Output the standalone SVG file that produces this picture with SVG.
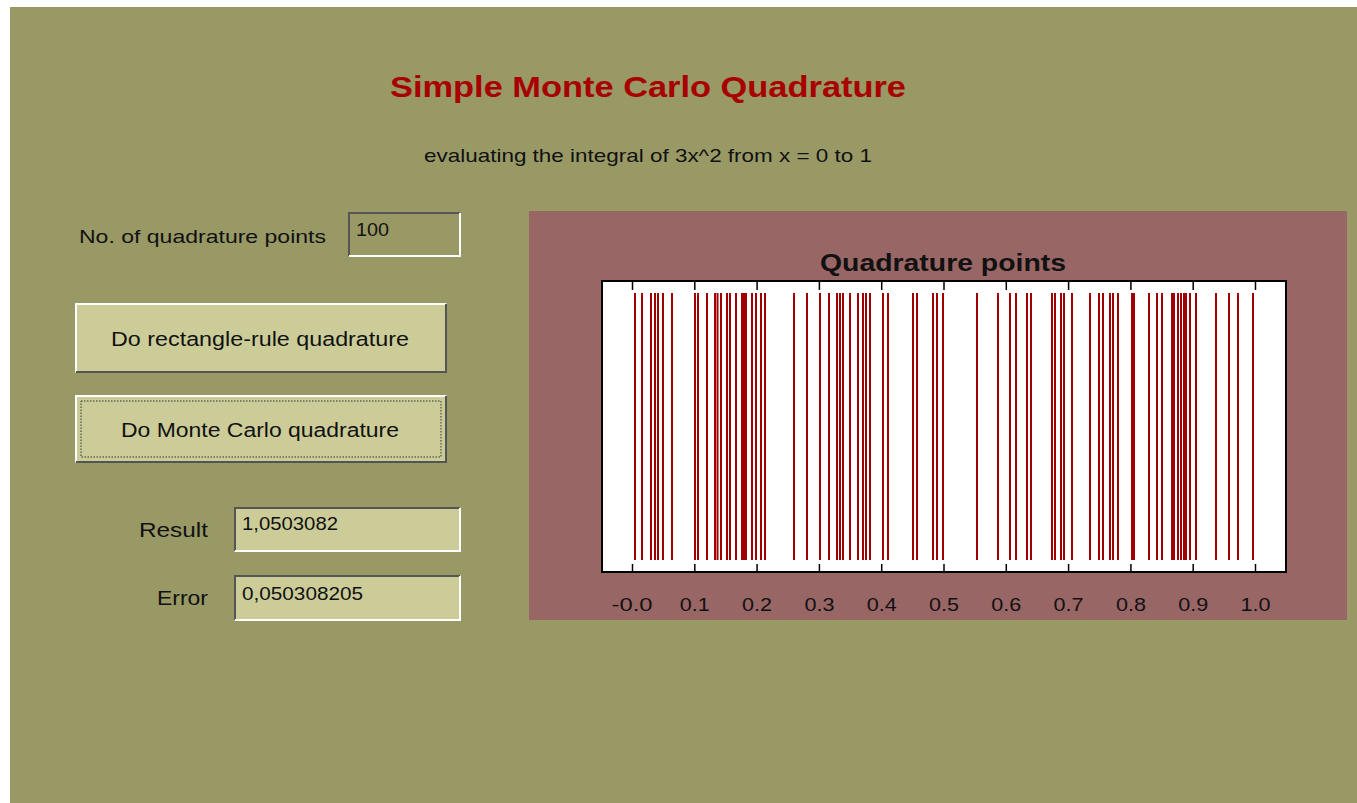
<svg xmlns="http://www.w3.org/2000/svg" width="1357" height="803" viewBox="0 0 1357 803">
<style>
.lbl{font-family:"Liberation Sans",Arial,sans-serif;font-size:19px;fill:#111}
.btn{font-family:"Liberation Sans",Arial,sans-serif;font-size:20px;fill:#111;text-anchor:middle}
.tick{font-family:"Liberation Sans",Arial,sans-serif;font-size:19px;fill:#111;text-anchor:middle}
.pt{stroke:#a00000;stroke-width:2}
.tk{stroke:#000;stroke-width:1.5}
.dk{stroke:#555;stroke-width:2}
.lt{stroke:#fff;stroke-width:2}
</style>
<rect x="0" y="0" width="1357" height="803" fill="#ffffff"/>
<rect x="10" y="7" width="1347" height="796" fill="#999966"/>
<g id="title"><text x="390" y="97" font-family="Liberation Sans,Arial,sans-serif" font-size="30" font-weight="bold" fill="#a80000" textLength="516" lengthAdjust="spacingAndGlyphs">Simple Monte Carlo Quadrature</text></g>
<g id="subtitle"><text x="424" y="162" class="lbl" textLength="448" lengthAdjust="spacingAndGlyphs">evaluating the integral of 3x^2 from x = 0 to 1</text></g>
<g id="npoints">
<text x="79" y="243" class="lbl" textLength="247" lengthAdjust="spacingAndGlyphs">No. of quadrature points</text>
<rect x="348" y="212" width="113" height="45" fill="#999966"/>
<path d="M349 256V213H460" class="dk" fill="none"/>
<path d="M349 256H460V213" class="lt" fill="none"/>
<text x="356" y="236" class="lbl" textLength="33" lengthAdjust="spacingAndGlyphs">100</text>
</g>
<g id="btn-rect">
<rect x="75" y="303" width="372" height="70" fill="#cccc99"/>
<path d="M76 372V304H446" class="lt" fill="none"/>
<path d="M76 372H446V304" class="dk" fill="none"/>
<text x="111" y="346" class="lbl" style="font-size:20px" textLength="298" lengthAdjust="spacingAndGlyphs">Do rectangle-rule quadrature</text>
</g>
<g id="btn-mc">
<rect x="75" y="395" width="372" height="68" fill="#cccc99"/>
<path d="M76 462V396H446" class="lt" fill="none"/>
<path d="M76 462H446V396" class="dk" fill="none"/>
<rect x="81" y="401" width="360" height="56" fill="none" stroke="#333" stroke-width="1" stroke-dasharray="1.5 1.5"/>
<text x="121" y="437" class="lbl" style="font-size:20px" textLength="278" lengthAdjust="spacingAndGlyphs">Do Monte Carlo quadrature</text>
</g>
<g id="result">
<text x="139" y="537" class="lbl" style="font-size:20px" textLength="69" lengthAdjust="spacingAndGlyphs">Result</text>
<rect x="234" y="507" width="227" height="45" fill="#cccc99"/>
<path d="M235 551V508H460" class="dk" fill="none"/>
<path d="M235 551H460V508" class="lt" fill="none"/>
<text x="242" y="530" class="lbl" textLength="96" lengthAdjust="spacingAndGlyphs">1,0503082</text>
</g>
<g id="error">
<text x="157" y="605" class="lbl" style="font-size:20px" textLength="51" lengthAdjust="spacingAndGlyphs">Error</text>
<rect x="234" y="575" width="227" height="46" fill="#cccc99"/>
<path d="M235 620V576H460" class="dk" fill="none"/>
<path d="M235 620H460V576" class="lt" fill="none"/>
<text x="242" y="600" class="lbl" textLength="121" lengthAdjust="spacingAndGlyphs">0,050308205</text>
</g>
<g id="plot">
<rect x="529" y="211" width="818" height="409" fill="#996666"/>
<text x="820" y="271" font-family="Liberation Sans,Arial,sans-serif" font-size="23" font-weight="bold" fill="#111" textLength="246" lengthAdjust="spacingAndGlyphs">Quadrature points</text>
<rect x="602" y="281" width="684" height="291" fill="#ffffff"/>
<g id="points">
<path class="pt" d="M635 293V560M642 293V560M651 293V560M655 293V560M658 293V560M663 293V560M672 293V560M695 293V560M698 293V560M707 293V560M715 293V560M717.5 293V560M721 293V560M727 293V560M730 293V560M736 293V560M742 293V560M744 293V560M746 293V560M752 293V560M756 293V560M761 293V560M765 293V560M794 293V560M807 293V560M820 293V560M829 293V560M837 293V560M840 293V560M843 293V560M850 293V560M858 293V560M863 293V560M866 293V560M870 293V560M883 293V560M888 293V560M913 293V560M917 293V560M933 293V560M937 293V560M943 293V560M977 293V560M998 293V560M1010 293V560M1016 293V560M1027 293V560M1031 293V560M1052 293V560M1055 293V560M1061 293V560M1064 293V560M1072 293V560M1090 293V560M1099 293V560M1103 293V560M1110 293V560M1113 293V560M1118 293V560M1132 293V560M1134 293V560M1149 293V560M1157 293V560M1162 293V560M1172 293V560M1174 293V560M1178 293V560M1181 293V560M1184 293V560M1186 293V560M1190 293V560M1196 293V560M1216 293V560M1229 293V560M1238 293V560M1253 293V560"/>
</g>
<rect x="602" y="281" width="684" height="291" fill="none" stroke="#000" stroke-width="2"/>
<path class="tk" d="M632.5 282V290M694.8 282V290M757.1 282V290M819.4 282V290M881.7 282V290M944 282V290M1006.3 282V290M1068.6 282V290M1130.9 282V290M1193.2 282V290M1255.5 282V290M632.5 564V571M694.8 564V571M757.1 564V571M819.4 564V571M881.7 564V571M944 564V571M1006.3 564V571M1068.6 564V571M1130.9 564V571M1193.2 564V571M1255.5 564V571"/>
<text x="632" y="611" class="tick" textLength="41" lengthAdjust="spacingAndGlyphs">-0.0</text>
<text x="694.8" y="611" class="tick" textLength="30" lengthAdjust="spacingAndGlyphs">0.1</text>
<text x="757.1" y="611" class="tick" textLength="30" lengthAdjust="spacingAndGlyphs">0.2</text>
<text x="819.4" y="611" class="tick" textLength="30" lengthAdjust="spacingAndGlyphs">0.3</text>
<text x="881.7" y="611" class="tick" textLength="30" lengthAdjust="spacingAndGlyphs">0.4</text>
<text x="944" y="611" class="tick" textLength="30" lengthAdjust="spacingAndGlyphs">0.5</text>
<text x="1006.3" y="611" class="tick" textLength="30" lengthAdjust="spacingAndGlyphs">0.6</text>
<text x="1068.6" y="611" class="tick" textLength="30" lengthAdjust="spacingAndGlyphs">0.7</text>
<text x="1130.9" y="611" class="tick" textLength="30" lengthAdjust="spacingAndGlyphs">0.8</text>
<text x="1193.2" y="611" class="tick" textLength="30" lengthAdjust="spacingAndGlyphs">0.9</text>
<text x="1255.5" y="611" class="tick" textLength="30" lengthAdjust="spacingAndGlyphs">1.0</text>
</g>
</svg>
